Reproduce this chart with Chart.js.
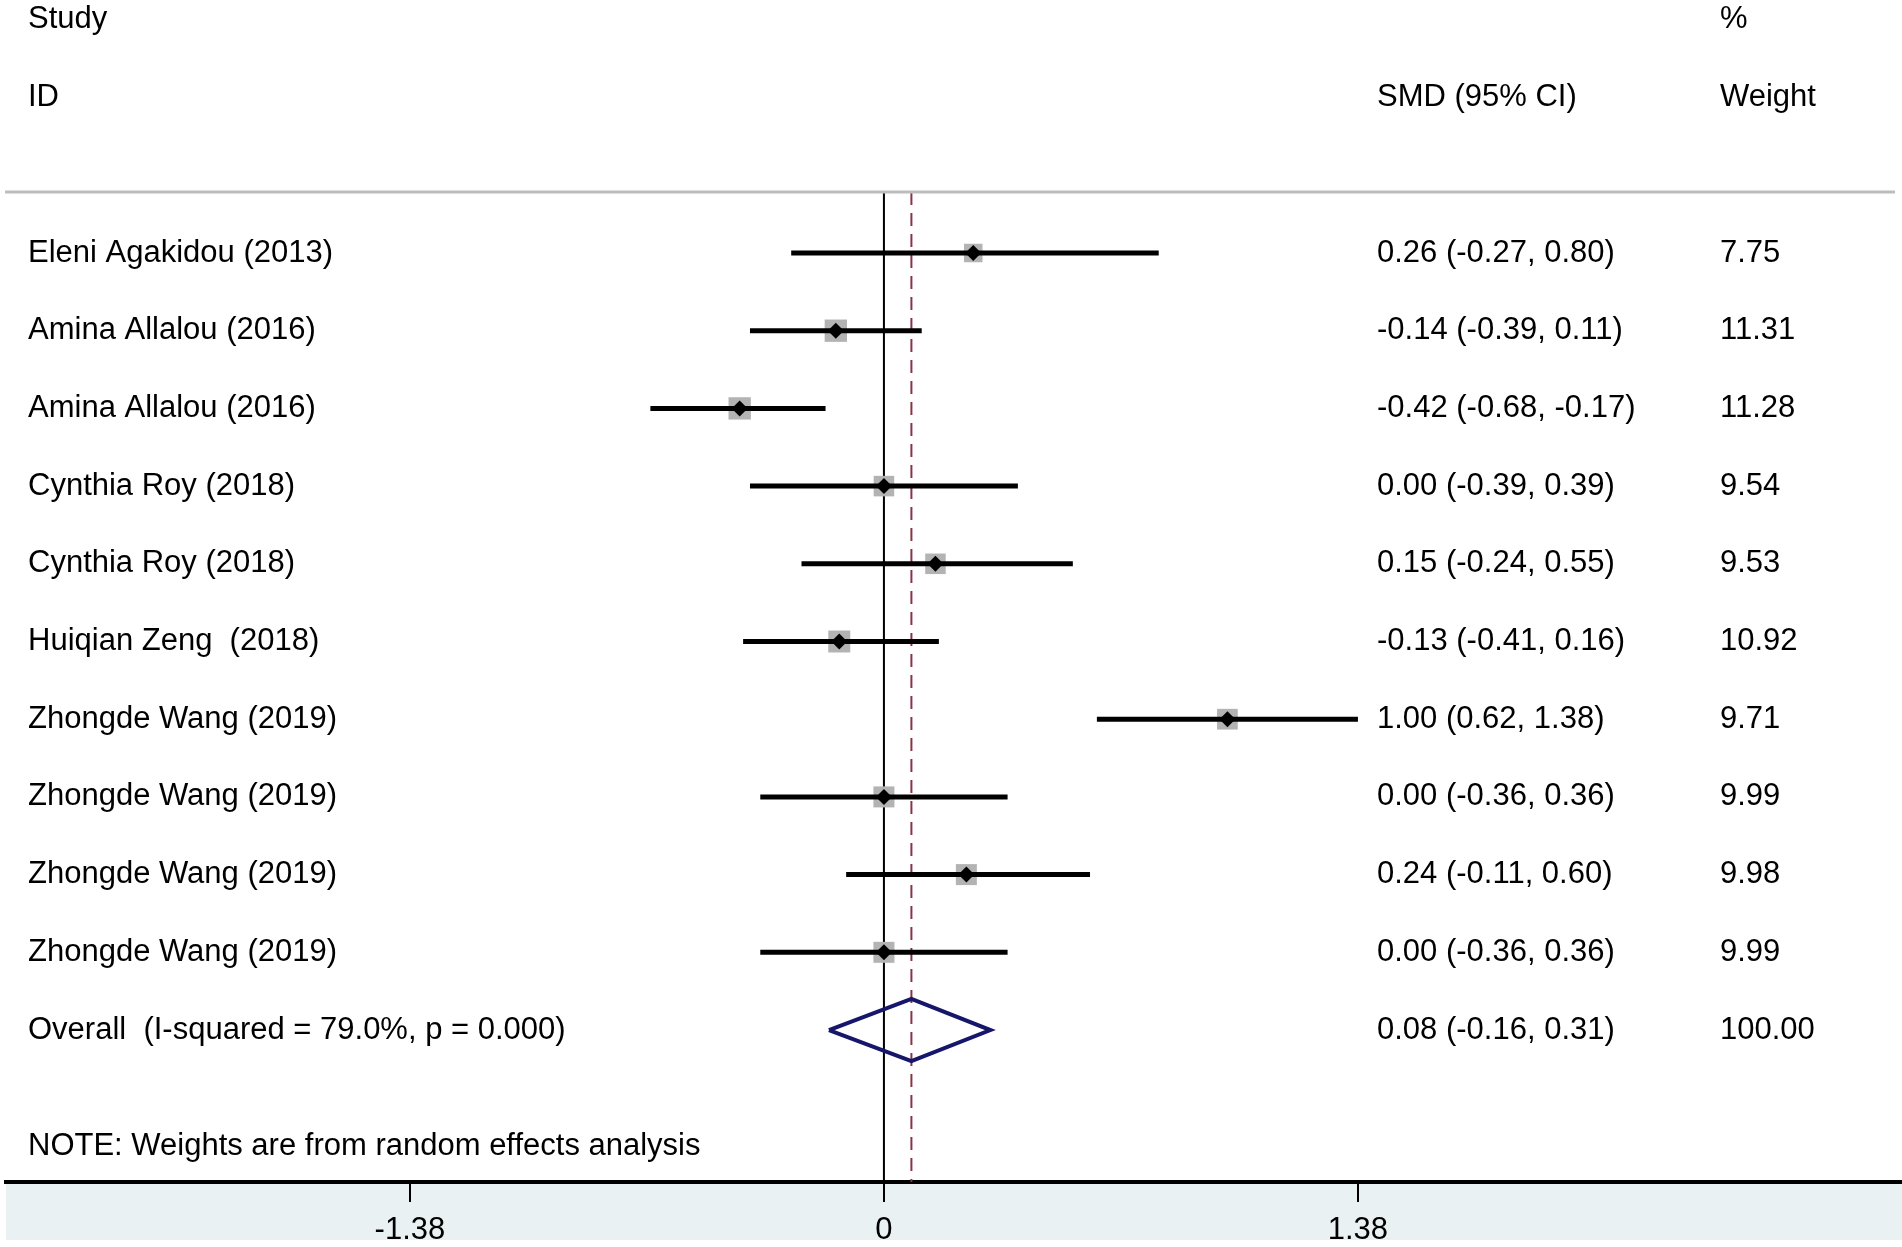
<!DOCTYPE html>
<html>
<head>
<meta charset="utf-8">
<script src="https://cdn.jsdelivr.net/npm/chart.js@4.4.1/dist/chart.umd.min.js"></script>
<style>
  html, body { margin: 0; padding: 0; background: #fff; }
  #wrap { width: 1902px; height: 1247px; position: relative; }
</style>
</head>
<body>
<div id="wrap"><canvas id="forest"></canvas></div>
<script>
const studies = [
  'Eleni Agakidou (2013)', 'Amina Allalou (2016)', 'Amina Allalou (2016)',
  'Cynthia Roy (2018)', 'Cynthia Roy (2018)', 'Huiqian Zeng  (2018)',
  'Zhongde Wang (2019)', 'Zhongde Wang (2019)', 'Zhongde Wang (2019)', 'Zhongde Wang (2019)',
];
const smd     = [0.26, -0.14, -0.42, 0.00, 0.15, -0.13, 1.00, 0.00, 0.24, 0.00];
const lower   = [-0.27, -0.39, -0.68, -0.39, -0.24, -0.41, 0.62, -0.36, -0.11, -0.36];
const upper   = [0.80, 0.11, -0.17, 0.39, 0.55, 0.16, 1.38, 0.36, 0.60, 0.36];
const weights = [7.75, 11.31, 11.28, 9.54, 9.53, 10.92, 9.71, 9.99, 9.98, 9.99];

const overallLabel = 'Overall  (I-squared = 79.0%, p = 0.000)';
const overall      = [0.08, -0.16, 0.31];   // est, lower, upper
const overallW     = 100.00;
const tickVals     = [-1.38, 0, 1.38];
const noteText     = 'NOTE: Weights are from random effects analysis';

// layout (row units on the y axis, pixels for text columns)
const Y_MIN = -3.256, Y_MAX = 11.956, RULE_ROW = -0.785;
const FONT = "31px 'Liberation Sans', Arial, sans-serif";
const COL_STUDY = 28, COL_SMD = 1377, COL_W = 1720;

const nRows = studies.length;
const rows = studies.map((_, i) => i);

const ciSets = rows.map(i => ({
  type: 'scatter', showLine: true, order: 8,
  data: [{ x: lower[i], y: i }, { x: upper[i], y: i }],
  borderColor: '#000', borderWidth: 5, pointRadius: 0,
}));

const datasets = [
  {
    type: 'scatter', showLine: true, order: 11,
    data: [{ x: 0, y: RULE_ROW }, { x: 0, y: Y_MAX }],
    borderColor: '#000', borderWidth: 2, pointRadius: 0,
  },
  {
    type: 'scatter', showLine: true, order: 10,
    data: [{ x: overall[0], y: RULE_ROW }, { x: overall[0], y: Y_MAX }],
    borderColor: '#8a3346', borderWidth: 2, borderDash: [13, 8], pointRadius: 0,
  },
  {
    type: 'scatter', order: 9,
    data: rows.map(i => ({ x: smd[i], y: i })),
    pointStyle: 'rect',
    pointRadius: weights.map(w => 4.7 * Math.sqrt(w)),
    backgroundColor: '#b3b3b3', borderWidth: 0,
  },
  ...ciSets,
  {
    type: 'scatter', order: 7,
    data: rows.map(i => ({ x: smd[i], y: i })),
    pointStyle: 'rectRot', pointRadius: 8,
    backgroundColor: '#000', borderWidth: 0,
  },
  {
    type: 'scatter', showLine: true, order: 6,
    data: [
      { x: overall[1], y: nRows },
      { x: overall[0], y: nRows - 0.4 },
      { x: overall[2], y: nRows },
      { x: overall[0], y: nRows + 0.4 },
      { x: overall[1], y: nRows },
    ],
    borderColor: '#16166a', borderWidth: 4, borderJoinStyle: 'miter',
    pointRadius: 0, fill: false,
  },
];

const textPlugin = {
  id: 'forestText',
  beforeDraw(chart) {
    const { ctx, chartArea } = chart;
    ctx.save();
    ctx.fillStyle = '#fff';
    ctx.fillRect(0, 0, chart.width, chart.height);
    ctx.fillStyle = '#e9f1f3';
    ctx.fillRect(6, chartArea.bottom, chart.width - 6, 1240 - chartArea.bottom);
    ctx.restore();
  },
  afterDatasetsDraw(chart) {
    const { ctx } = chart;
    const y = chart.scales.y;
    ctx.save();
    // header rule
    ctx.strokeStyle = '#bdbdbd';
    ctx.lineWidth = 3;
    ctx.beginPath();
    ctx.moveTo(5, y.getPixelForValue(RULE_ROW));
    ctx.lineTo(1895, y.getPixelForValue(RULE_ROW));
    ctx.stroke();

    ctx.font = FONT;
    ctx.fillStyle = '#000';
    ctx.textBaseline = 'middle';
    ctx.textAlign = 'left';
    const put = (t, x, r) => ctx.fillText(t, x, y.getPixelForValue(r));
    put('Study', COL_STUDY, -3);
    put('ID', COL_STUDY, -2);
    put('SMD (95% CI)', COL_SMD, -2);
    put('%', COL_W, -3);
    put('Weight', COL_W, -2);
    rows.forEach(i => {
      put(studies[i], COL_STUDY, i);
      put(`${smd[i].toFixed(2)} (${lower[i].toFixed(2)}, ${upper[i].toFixed(2)})`, COL_SMD, i);
      put(weights[i].toFixed(2), COL_W, i);
    });
    put(overallLabel, COL_STUDY, nRows);
    put(`${overall[0].toFixed(2)} (${overall[1].toFixed(2)}, ${overall[2].toFixed(2)})`, COL_SMD, nRows);
    put(overallW.toFixed(2), COL_W, nRows);
    put(noteText, COL_STUDY, nRows + 1.5);
    ctx.restore();
  },
};

new Chart(document.getElementById('forest').getContext('2d'), {
  type: 'scatter',
  data: { datasets },
  plugins: [textPlugin],
  options: {
    responsive: true,
    maintainAspectRatio: false,
    animation: false,
    devicePixelRatio: 1,
    layout: { autoPadding: false, padding: { left: 6, right: 0, top: 0, bottom: 0 } },
    plugins: { legend: { display: false }, tooltip: { enabled: false } },
    scales: {
      x: {
        type: 'linear',
        min: -2.556, max: 2.964,
        afterBuildTicks: s => { s.ticks = tickVals.map(v => ({ value: v })); },
        afterFit: s => { s.height = 65; },
        ticks: {
          autoSkip: false, maxRotation: 0, color: '#000', padding: 10,
          font: { family: "'Liberation Sans', Arial, sans-serif", size: 31 },
          callback: v => String(v),
        },
        grid: { drawOnChartArea: false, drawTicks: true, tickLength: 20, color: '#000', lineWidth: 2 },
        border: { display: true, color: '#000', width: 4 },
      },
      y: {
        type: 'linear', display: false, reverse: true,
        min: Y_MIN, max: Y_MAX,
      },
    },
  },
});
</script>
</body>
</html>
